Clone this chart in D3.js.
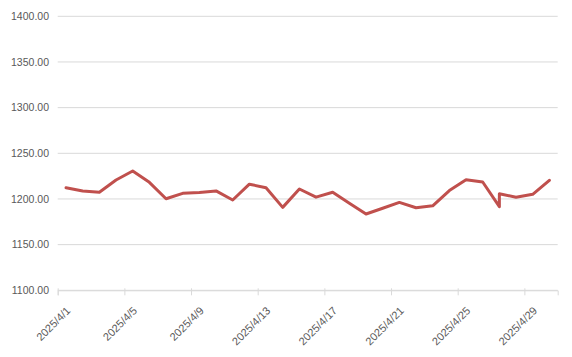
<!DOCTYPE html>
<html><head><meta charset="utf-8">
<script src="https://cdn.jsdelivr.net/npm/d3@7"></script>
<style>
body{margin:0;background:#fff;}
text{font-family:"Liberation Sans",Arial,sans-serif;}
</style></head>
<body><svg id="c" width="572" height="357"></svg>
<script>
const dates = ["2025-04-01","2025-04-02","2025-04-03","2025-04-04","2025-04-05","2025-04-06","2025-04-07","2025-04-08","2025-04-09","2025-04-10",
"2025-04-11","2025-04-12","2025-04-13","2025-04-14","2025-04-15","2025-04-16","2025-04-17","2025-04-18","2025-04-19","2025-04-20",
"2025-04-21","2025-04-22","2025-04-23","2025-04-24","2025-04-25","2025-04-26","2025-04-27","2025-04-27","2025-04-28","2025-04-29","2025-04-30"];
const values = [1212.3,1208.7,1207.3,1220.8,1230.6,1218.2,1200.2,1206.2,1207.2,1208.8,
1198.9,1216.2,1212.3,1190.8,1210.9,1202.0,1207.4,1195.4,1183.5,1189.8,
1196.2,1190.4,1192.5,1209.2,1221.1,1218.6,1191.6,1205.8,1201.8,1205.1,1220.4];
const yTicks = [1100,1150,1200,1250,1300,1350,1400];
const xTickDates = ["2025-04-01","2025-04-05","2025-04-09","2025-04-13","2025-04-17","2025-04-21","2025-04-25","2025-04-29"];

const parse = s => { const [y,m,d] = s.split("-").map(Number); return new Date(y, m-1, d); };
const svg = d3.select("#c");
const L = 57.7, R = 557.7, T = 16.3, B = 290.3;
const x = d3.scaleTime().domain([new Date(2025,3,1), new Date(2025,4,1)]).range([L, R]);
const y = d3.scaleLinear().domain([1100,1400]).range([B, T]);

// gridlines
svg.append("g").selectAll("line").data(yTicks).join("line")
  .attr("x1", L).attr("x2", R).attr("y1", d=>y(d)).attr("y2", d=>y(d))
  .attr("stroke", "#d9d9d9").attr("stroke-width", 1);

// y labels
svg.append("g").selectAll("text").data(yTicks).join("text")
  .attr("x", 49).attr("y", d=>y(d)).attr("dy", "0.35em")
  .attr("text-anchor", "end").attr("font-size", "10.5px").attr("fill", "#595959")
  .text(d=>d.toFixed(2));

// x axis
const xa = d3.axisBottom(x).tickValues(xTickDates.map(parse)).tickSize(5)
  .tickFormat(d => `${d.getFullYear()}/${d.getMonth()+1}/${d.getDate()}`);
const g = svg.append("g").attr("transform", `translate(0,${B})`).call(xa);
g.select(".domain").attr("stroke", "#d9d9d9");
g.selectAll(".tick line").attr("stroke", "#d9d9d9").attr("y1", -2);
g.selectAll(".tick text").attr("font-size", "11px").attr("fill", "#595959")
  .attr("font-family", "Liberation Sans, Arial, sans-serif")
  .attr("text-anchor", "end").attr("x", 0).attr("y", 0).attr("dy", 0)
  .attr("transform", "translate(13,21) rotate(-45)");

// line
const pts = dates.map((d,i)=>({t: d3.timeHour.offset(parse(d), 12), v: values[i]}));
svg.append("path").datum(pts)
  .attr("fill","none").attr("stroke","#C0504D").attr("stroke-width",3)
  .attr("stroke-linejoin","round").attr("stroke-linecap","round")
  .attr("d", d3.line().x(d=>x(d.t)).y(d=>y(d.v)));
</script></body></html>
